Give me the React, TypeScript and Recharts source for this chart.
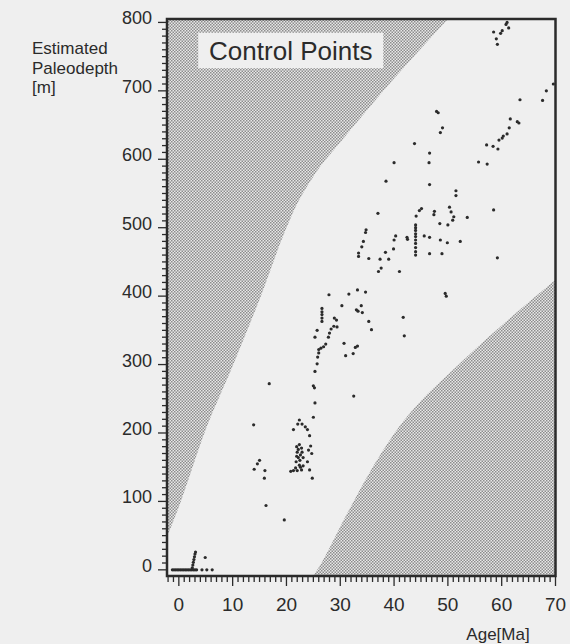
import React from "react";
import {
  ComposedChart,
  XAxis,
  YAxis,
  Area,
  Scatter,
  ReferenceArea,
} from "recharts";

// control points: age [Ma] / estimated paleodepth [m]
const controlAge = [
  61.0, 60.8, 61.3, 60.1, 59.8, 58.5, 59.0, 59.2,
  69.6, 68.3, 63.4, 67.6,
  47.9, 48.2, 61.6, 62.9, 63.2, 49.0, 48.6, 61.4, 61.0, 60.3, 60.1, 59.5, 43.8, 57.2, 58.4, 59.3, 46.6, 40.0, 46.5, 55.7, 57.3, 38.5, 46.6, 51.5, 51.5,
  37.0, 45.1, 44.7, 47.5, 47.4, 50.3, 50.6, 51.1, 50.9, 53.6, 58.5, 44.1, 50.0, 48.5,
  44.0, 44.0, 44.0, 44.0, 44.0, 44.0, 44.0, 44.0, 44.0, 44.0,
  45.6, 46.6, 42.5, 48.6, 49.9, 52.3, 46.6, 48.9, 59.2,
  34.8, 34.7, 40.3, 42.4, 40.0, 34.3, 34.0, 33.4, 33.4, 35.3, 37.4, 39.0, 38.4, 39.9, 37.6, 37.1, 41.0, 49.5, 49.7,
  27.9, 31.6, 33.2, 34.7, 30.3, 33.9, 33.0, 33.3, 34.1, 41.7,
  26.6, 26.6, 26.6, 26.6, 26.6,
  28.9, 29.3, 28.8, 29.4, 28.3, 28.0, 27.8, 25.7, 25.3, 35.3, 35.8, 41.9, 30.7, 27.3, 26.9, 26.4, 26.0, 33.2, 32.8, 32.4, 31.0, 26.0, 25.8, 25.7, 25.3, 25.0, 25.2, 25.3, 25.0, 16.8, 32.5,
  13.9, 22.4, 22.1, 22.9, 21.3, 23.5, 23.9, 24.3,
  22.4, 22.8, 22.0, 22.6, 22.2, 21.8, 22.4, 21.7, 21.3, 22.0, 22.8, 23.1, 23.1, 22.9, 22.2, 22.5, 21.9, 22.6, 20.8, 21.9,
  24.1, 24.5, 24.7, 23.9, 24.3, 24.8,
  15.0, 14.6, 14.0, 16.0, 15.9, 16.2, 19.6,
  -1.2, -0.9, -0.6, -0.3, 0.0, 0.3, 0.6, 0.9, 1.2, 1.5, 1.8, 2.1, 2.4, 2.7, 3.0, 3.3,
  2.5, 2.6, 2.7, 2.8, 2.9, 3.0, 3.1,
  4.9, 4.3, 5.2, 6.2,
];
const controlDepth = [
  800, 797, 792, 788, 784, 786, 776, 768,
  710, 700, 687, 686,
  670, 668, 659, 655, 653, 646, 639, 646, 637, 634, 631, 628, 623, 621, 619, 615, 609, 595, 595, 596, 593, 568, 563, 554, 547,
  521, 528, 525, 524, 519, 530, 523, 516, 511, 515, 526, 517, 504, 506,
  504, 500, 496, 491, 487, 482, 477, 471, 465, 460,
  488, 486, 483, 482, 478, 480, 462, 462, 456,
  497, 493, 488, 486, 482, 480, 472, 463, 458, 455, 454, 454, 464, 469, 441, 436, 436, 404, 400,
  402, 403, 409, 406, 386, 386, 380, 378, 376, 369,
  382, 377, 373, 368, 363,
  368, 365, 356, 355, 352, 346, 340, 350, 340, 363, 351, 342, 331, 330, 326, 324, 322, 327, 325, 316, 313, 317, 311, 301, 290, 269, 266, 244, 223, 272, 254,
  212, 219, 213, 213, 205, 209, 205, 196,
  183, 178, 172, 168, 164, 158, 153, 149, 145, 145, 146, 152, 164, 172, 176, 160, 166, 150, 144, 180,
  175, 181, 170, 158, 146, 134,
  160, 155, 147, 145, 134, 94, 73,
  0, 0, 0, 0, 0, 0, 0, 0, 0, 0, 0, 0, 0, 0, 0, 0,
  3, 7, 11, 15, 19, 23, 26,
  18, 0, 0, 0,
];

// stippled zone upper left (too shallow for its age)
const upperZoneAge = [-2.2, 0, 5, 10, 15, 20, 22, 25, 30, 35, 40, 45, 50];
const upperZoneDepth = [48, 92, 205, 298, 395, 500, 535, 575, 625, 672, 718, 762, 805];
// stippled zone lower right (too deep)
const lowerZoneAge = [25, 27, 30, 32, 35, 40, 45, 50, 55, 60, 65, 70];
const lowerZoneDepth = [-9, 17, 63, 93, 136, 199, 247, 285, 322, 357, 391, 424];

const ageLabels = [0, 10, 20, 30, 40, 50, 60, 70];
const depthLabels = [0, 100, 200, 300, 400, 500, 600, 700, 800];

const X_MIN = -2.2;
const X_MAX = 70;
const Y_MIN = -9;
const Y_MAX = 805;

const INK = "#2b2b2b";
const PAPER = "#efefef";
const FONT = "'Liberation Sans', Arial, Helvetica, sans-serif";

const ageTicks = Array.from({ length: 73 }, (_, i) => i - 2);
const depthTicks = Array.from({ length: 81 }, (_, i) => i * 10);

const points = controlAge.map((a, i) => ({ x: a, y: controlDepth[i] }));
const upperZone = upperZoneAge.map((a, i) => ({ x: a, band: [upperZoneDepth[i], Y_MAX] }));
const lowerZone = lowerZoneAge.map((a, i) => ({ x: a, band: [Y_MIN, lowerZoneDepth[i]] }));

function AgeTick(props: any) {
  const { x, y, payload } = props;
  const major = ageLabels.includes(payload.value);
  return (
    <g>
      <line x1={x} x2={x} y1={y} y2={y + (major ? 10 : 6)} stroke={INK} strokeWidth={1.3} />
      {major && (
        <text x={x} y={y + 35} textAnchor="middle" fontSize={19} fill={INK} fontFamily={FONT}>
          {payload.value}
        </text>
      )}
    </g>
  );
}

function DepthTick(props: any) {
  const { x, y, payload } = props;
  const major = depthLabels.includes(payload.value);
  return (
    <g>
      <line x1={x - (major ? 9 : 5)} x2={x} y1={y} y2={y} stroke={INK} strokeWidth={1.3} />
      {major && (
        <text x={x - 15} y={y + 2} textAnchor="end" fontSize={18} fill={INK} fontFamily={FONT}>
          {payload.value}
        </text>
      )}
    </g>
  );
}

export default function App() {
  return (
    <div
      style={{
        position: "fixed",
        left: 0,
        top: 0,
        width: 570,
        height: 644,
        background: PAPER,
        fontFamily: FONT,
      }}
    >
      <svg width={0} height={0} style={{ position: "absolute" }}>
        <defs>
          {/* fine halftone, like the printed screen */}
          <pattern id="stipple" width={3} height={3} patternUnits="userSpaceOnUse">
            <rect width={3} height={3} fill="#e8e8e8" />
            <rect x={0} y={0} width={1.5} height={1.5} fill="#8c8c8c" />
            <rect x={1.5} y={1.5} width={1.5} height={1.5} fill="#8c8c8c" />
          </pattern>
        </defs>
      </svg>

      <ComposedChart
        width={570}
        height={644}
        margin={{ top: 19, right: 14.5, bottom: 0, left: 0 }}
      >
        <XAxis
          type="number"
          dataKey="x"
          domain={[X_MIN, X_MAX]}
          ticks={ageTicks}
          interval={0}
          allowDataOverflow
          height={68}
          tickSize={0}
          tickMargin={0}
          tickLine={false}
          axisLine={false}
          tick={<AgeTick />}
        />
        <YAxis
          type="number"
          dataKey="y"
          domain={[Y_MIN, Y_MAX]}
          ticks={depthTicks}
          interval={0}
          allowDataOverflow
          width={167}
          tickSize={0}
          tickMargin={0}
          tickLine={false}
          axisLine={false}
          tick={<DepthTick />}
        />
        <Area
          data={upperZone}
          dataKey="band"
          type="monotone"
          stroke="none"
          fill="url(#stipple)"
          fillOpacity={1}
          isAnimationActive={false}
          activeDot={false}
        />
        <Area
          data={lowerZone}
          dataKey="band"
          type="monotone"
          stroke="none"
          fill="url(#stipple)"
          fillOpacity={1}
          isAnimationActive={false}
          activeDot={false}
        />
        <ReferenceArea
          x1={3.6}
          x2={38}
          y1={733}
          y2={785}
          fill={PAPER}
          fillOpacity={1}
          stroke="none"
          ifOverflow="visible"
          label={{
            value: "Control Points",
            position: "center",
            fontSize: 26,
            fill: INK,
            fontFamily: FONT,
          }}
        />
        <ReferenceArea
          x1={X_MIN}
          x2={X_MAX}
          y1={Y_MIN}
          y2={Y_MAX}
          fill="none"
          stroke={INK}
          strokeWidth={2.5}
          ifOverflow="visible"
        />
        <Scatter
          data={points}
          fill={INK}
          isAnimationActive={false}
          shape={(p: any) => <circle cx={p.cx} cy={p.cy} r={1.6} fill={INK} />}
        />
      </ComposedChart>

      <svg
        width={570}
        height={644}
        style={{ position: "absolute", left: 0, top: 0, pointerEvents: "none" }}
      >
        <g fontFamily={FONT} fontSize={17} fill={INK}>
          <text x={32} y={54}>Estimated</text>
          <text x={32} y={73.5}>Paleodepth</text>
          <text x={32} y={93}>[m]</text>
          <text x={498} y={640} textAnchor="middle" fontSize={17}>
            Age[Ma]
          </text>
        </g>
      </svg>
    </div>
  );
}
